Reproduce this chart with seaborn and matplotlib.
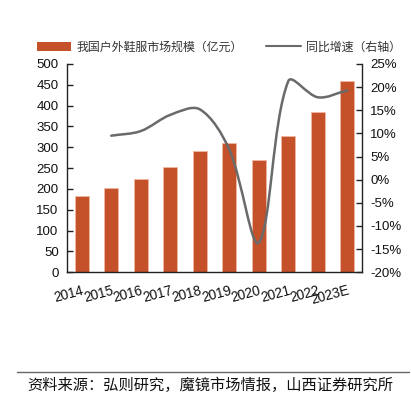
import numpy as np
import pandas as pd
import matplotlib
matplotlib.use('Agg')
import matplotlib.pyplot as plt
import seaborn as sns
from matplotlib.path import Path
from matplotlib.patches import PathPatch, Patch
from matplotlib.lines import Line2D
from matplotlib.ticker import MultipleLocator, FixedLocator

sns.set_theme(style='white')
plt.rcParams['font.family'] = ['Liberation Sans', 'Noto Sans CJK SC', 'DejaVu Sans']
plt.rcParams['axes.unicode_minus'] = False

# 数据
years = ['2014', '2015', '2016', '2017', '2018', '2019', '2020', '2021', '2022', '2023E']
market_size = [183, 201, 223, 253, 292, 311, 269, 326, 384, 459]
growth_years = ['2015', '2016', '2017', '2018', '2019', '2020', '2021', '2022', '2023E']
growth = [9.5, 10.5, 14.0, 15.2, 6.5, -13.6, 21.3, 17.8, 19.3]

bar_color = '#C4512A'
line_color = '#6A6A6A'

fig = plt.figure(figsize=(4.11, 3.95), dpi=100)
ax = fig.add_axes([0.163, 0.311, 0.718, 0.527])

df = pd.DataFrame({'year': years, 'size': market_size})
sns.barplot(data=df, x='year', y='size', color=bar_color, width=0.47,
            edgecolor='#F0B8A0', linewidth=0.6, saturation=1, ax=ax)
ax.set_ylim(0, 500)
ax.set_xlim(-0.5, 9.5)
ax.yaxis.set_major_locator(MultipleLocator(50))
ax.set_xlabel('')
ax.set_ylabel('')

# 右轴：同比增速（Excel 式平滑曲线）
ax2 = ax.twinx()
ax2.set_ylim(-20, 25)
ax2.yaxis.set_major_locator(MultipleLocator(5))
ax2.yaxis.set_major_formatter(lambda v, p: f'{v:.0f}%')

xs = np.array([years.index(y) for y in growth_years], dtype=float)
ys = np.array(growth, dtype=float)
sx, sy = 29.5, 4.62  # 屏幕像素比例，用于控制点长度
n = len(xs)
pts = [(xs[i], ys[i]) for i in range(n)]

def dist(a, b):
    return np.hypot((a[0] - b[0]) * sx, (a[1] - b[1]) * sy)

verts = [pts[0]]
codes = [Path.MOVETO]
f = 1 / 6
for i in range(n - 1):
    p0 = pts[max(i - 1, 0)]
    p1 = pts[i]
    p2 = pts[i + 1]
    p3 = pts[min(i + 2, n - 1)]
    d01, d12 = dist(p0, p1), dist(p1, p2)
    k1 = 2 * d12 / (d01 + d12) if (d01 + d12) > 0 else 1
    c1 = (p1[0] + (p2[0] - p0[0]) * f * k1, p1[1] + (p2[1] - p0[1]) * f * k1)
    d23 = dist(p2, p3)
    k2 = 2 * d12 / (d12 + d23) if (d12 + d23) > 0 else 1
    c2 = (p2[0] - (p3[0] - p1[0]) * f * k2, p2[1] - (p3[1] - p1[1]) * f * k2)
    verts += [c1, c2, p2]
    codes += [Path.CURVE4] * 3
ax2.add_patch(PathPatch(Path(verts, codes), facecolor='none', edgecolor=line_color,
                        linewidth=1.8, transform=ax2.transData, capstyle='round'))

# 坐标轴样式
for a in (ax, ax2):
    a.spines['top'].set_visible(False)
    for s in ['left', 'right', 'bottom']:
        a.spines[s].set_color('#222222')
        a.spines[s].set_linewidth(1.0)
ax.spines['right'].set_visible(False)
ax2.spines['left'].set_visible(False)
ax2.spines['bottom'].set_visible(False)

ax.tick_params(axis='y', direction='in', length=4, width=1, color='#222222',
               labelsize=9.5, labelcolor='#111111', pad=6)
ax2.tick_params(axis='y', direction='in', length=4, width=1, color='#222222',
                labelsize=9.5, labelcolor='#111111', pad=6)
ax.tick_params(axis='x', which='major', length=0, labelsize=9.8, labelcolor='#111111', pad=8)
ax.xaxis.set_minor_locator(FixedLocator(np.arange(0.5, 9.5, 1)))
ax.tick_params(axis='x', which='minor', direction='in', length=4, width=1, color='#222222')
for lab in ax.get_xticklabels():
    lab.set_rotation(15)
    lab.set_ha('right')
    lab.set_rotation_mode('anchor')

# 图例
handles = [Patch(facecolor=bar_color, edgecolor='none'),
           Line2D([0], [0], color=line_color, linewidth=1.5)]
fig.legend(handles, ['我国户外鞋服市场规模（亿元）', '同比增速（右轴）'], loc='center',
           bbox_to_anchor=(0.532, 0.88), ncol=2, frameon=False, fontsize=8.6,
           handlelength=2.9, handleheight=0.8, columnspacing=2.0, handletextpad=0.4,
           labelcolor='#333333')

# 资料来源
fig.add_artist(Line2D([0.042, 0.995], [0.058, 0.058], color='#666666', linewidth=1.0,
                      transform=fig.transFigure))
fig.text(0.066, 0.025, '资料来源：弘则研究，魔镜市场情报，山西证券研究所', fontsize=11,
         color='#111111', va='center', ha='left')

fig.savefig('out.png', dpi=100)
